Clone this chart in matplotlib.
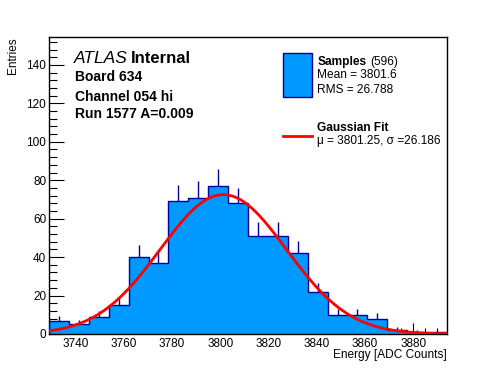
import numpy as np
import matplotlib
matplotlib.use("Agg")
import matplotlib.pyplot as plt
from matplotlib.patches import Rectangle
from matplotlib.ticker import MultipleLocator

plt.rcParams['font.family'] = ['Liberation Sans', 'DejaVu Sans']

# histogram: 20 bins from 3729 to 3894
x_min = 3729.0
bin_width = 8.25
counts = [7, 5, 9, 15, 40, 37, 69, 71, 77, 68, 51, 51, 42, 22, 10, 10, 8, 2, 1, 1]
errors = [2.6, 2.2, 3.0, 3.9, 6.3, 6.1, 8.3, 8.4, 8.8, 8.2, 7.1, 7.1, 6.5, 4.7, 3.2, 3.2, 2.8, 1.4, 1.0, 1.0]

# gaussian fit parameters
fit_const = 72.5
fit_mean = 3801.25
fit_sigma = 26.186

info_lines = ["Board 634", "Channel 054 hi", "Run 1577 A=0.009"]
n_samples = 596
sample_mean = 3801.6
sample_rms = 26.788

fill_col = '#0099ff'
edge_col = '#000099'

counts = np.array(counts, dtype=float)
errors = np.array(errors)
edges = x_min + bin_width * np.arange(len(counts) + 1)
centers = 0.5 * (edges[:-1] + edges[1:])

fig = plt.figure(figsize=(4.96, 3.72), dpi=100)
ax = fig.add_axes([0.0988, 0.1022, 0.8024, 0.7983])

ax.vlines(centers, counts, counts + errors, color=edge_col, lw=1.0, zorder=1)
ax.stairs(counts, edges, fill=True, color=fill_col, zorder=2)
ax.stairs(counts, edges, baseline=0, color=edge_col, lw=1.0, zorder=3)

xf = np.linspace(edges[0], edges[-1], 400)
yf = fit_const * np.exp(-0.5 * ((xf - fit_mean) / fit_sigma) ** 2)
ax.plot(xf, yf, color='#ff0000', lw=2.0, zorder=4)

ax.set_xlim(edges[0], edges[-1])
ax.set_ylim(0, 154.5)
ax.xaxis.set_major_locator(MultipleLocator(20))
ax.xaxis.set_minor_locator(MultipleLocator(5))
ax.yaxis.set_major_locator(MultipleLocator(20))
ax.yaxis.set_minor_locator(MultipleLocator(4))
ax.tick_params(which='both', direction='in', top=False, right=False, labelsize=8.5, width=0.8)
ax.tick_params(axis='x', which='major', length=8, pad=3)
ax.tick_params(axis='x', which='minor', length=4)
ax.tick_params(axis='y', which='major', length=11, pad=2)
ax.tick_params(axis='y', which='minor', length=5.5)
for sp in ax.spines.values():
    sp.set_linewidth(1.0)

ax.text(-0.09, 1.0, 'Entries', rotation=90, ha='center', va='top',
        fontsize=8.5, transform=ax.transAxes)
ax.text(1.0, -0.071, 'Energy [ADC Counts]', ha='right', va='center',
        fontsize=8.6, transform=ax.transAxes)

# labels top left
ax.text(0.063, 0.929, 'ATLAS', style='italic', fontsize=12.5, va='center', transform=ax.transAxes)
ax.text(0.206, 0.929, 'Internal', weight='bold', fontsize=12, va='center', transform=ax.transAxes)
for i, s in enumerate(info_lines):
    ax.text(0.065, [0.865, 0.797, 0.740][i], s, weight='bold', fontsize=10,
            va='center', transform=ax.transAxes)

# legend
ax.add_patch(Rectangle((0.589, 0.799), 0.0714, 0.146, transform=ax.transAxes,
                       facecolor=fill_col, edgecolor=edge_col, lw=1.0, zorder=5))
ax.text(0.674, 0.917, 'Samples', weight='bold', fontsize=8.6, va='center', transform=ax.transAxes)
ax.text(0.8065, 0.917, '(%d)' % n_samples, fontsize=8.6, va='center', transform=ax.transAxes)
ax.text(0.674, 0.872, 'Mean = %.1f' % sample_mean, fontsize=8.6, va='center', transform=ax.transAxes)
ax.text(0.674, 0.822, 'RMS = %.3f' % sample_rms, fontsize=8.6, va='center', transform=ax.transAxes)
ax.plot([0.589, 0.6604], [0.667, 0.667], color='#ff0000', lw=2.0, transform=ax.transAxes)
ax.text(0.674, 0.695, 'Gaussian Fit', weight='bold', fontsize=8.6, va='center', transform=ax.transAxes)
ax.text(0.674, 0.651, '\u03bc = %.2f, \u03c3 =%.3f' % (fit_mean, fit_sigma), fontsize=8.6,
        va='center', transform=ax.transAxes)

fig.savefig('out.png', dpi=100)
